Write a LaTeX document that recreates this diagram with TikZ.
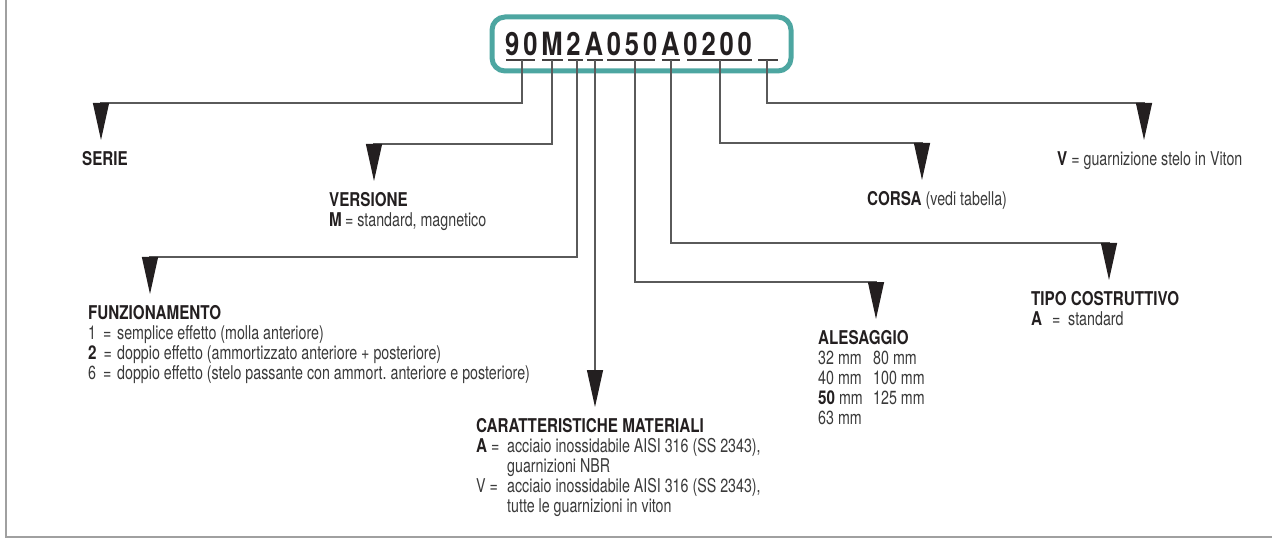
\documentclass[tikz,border=0pt]{standalone}
\usepackage{fontspec}
\setmainfont{TeX Gyre Heros}[FakeStretch=0.75,BoldFeatures={FakeStretch=0.8}]
\newfontfamily\codefont{TeX Gyre Heros}[FakeStretch=0.8,LetterSpace=12]
\usetikzlibrary{arrows.meta}
\definecolor{boxteal}{HTML}{4DA6A1}
\definecolor{inkdark}{HTML}{231F20}
\definecolor{leadgray}{HTML}{5A5A5A}
\definecolor{framegray}{HTML}{A0A0A0}
\definecolor{txtgray}{HTML}{3A3A3A}
\newcommand{\keyhd}[1]{\textcolor{inkdark}{\textbf{#1}}}

\begin{document}
\begin{tikzpicture}[x=1pt,y=-1pt,
    codebox/.style={draw=boxteal,line width=5pt,rounded corners=13pt,minimum width=299pt,minimum height=54pt},
    codetxt/.style={anchor=base west,inner sep=0pt,font=\codefont\bfseries\fontsize{32}{34}\selectfont,text=inkdark},
    uline/.style={draw=inkdark!85,line width=1.2pt},
    lead/.style={draw=leadgray,line width=1.2pt,-{Triangle[length=37pt,width=16pt,color=inkdark]}},
    lbl/.style={anchor=north west,inner sep=0pt,align=left,font=\fontsize{19}{20}\selectfont,text=txtgray}
  ]
  \useasboundingbox (0,0) rectangle (1272,540);
  \draw[framegray,line width=2pt] (6,0) -- (6,537) -- (1272,537);

  % order code
  \node[codebox] (code) at (641.5,44) {};
  \node[codetxt] (num) at (505,56) {90M2A050A0200};
  \foreach \a/\b/\c [count=\i] in {506/535/522,542/563/552,568/583/577,587/603/595,
      607/655/635,662/680/671,687/752/720,758/778/767}{
    \draw[uline] (\a,60) -- (\b,60);
    \coordinate (u\i) at (\c,60);
  }

  % arrow tips
  \coordinate (tSerie) at (101,140);
  \coordinate (tVers) at (374,181);
  \coordinate (tFunz) at (150,294);
  \coordinate (tCar) at (595,407);
  \coordinate (tAles) at (876,319);
  \coordinate (tTipo) at (1109,280);
  \coordinate (tCorsa) at (922,180);
  \coordinate (tVit) at (1144,140);

  % labels
  \node[lbl] (serie) at (82,151) {\keyhd{SERIE}};
  \node[lbl] (vers) at (329,192) {\keyhd{VERSIONE}\\\keyhd{M}\,= standard, magnetico};
  \node[lbl] (funz) at (88,305) {\keyhd{FUNZIONAMENTO}\\
    \makebox[29pt][l]{1\hspace{7pt}=}semplice effetto (molla anteriore)\\
    \makebox[29pt][l]{\keyhd{2}\hspace{7pt}=}doppio effetto (ammortizzato anteriore + posteriore)\\
    \makebox[29pt][l]{6\hspace{7pt}=}doppio effetto (stelo passante con ammort.\ anteriore e posteriore)};
  \node[lbl] (car) at (476,418) {\keyhd{CARATTERISTICHE MATERIALI}\\
    \makebox[31pt][l]{\keyhd{A} =}acciaio inossidabile AISI 316 (SS 2343),\\
    \hspace*{31pt}guarnizioni NBR\\
    \makebox[31pt][l]{V =}acciaio inossidabile AISI 316 (SS 2343),\\
    \hspace*{31pt}tutte le guarnizioni in viton};
  \node[lbl] (ales) at (818,330) {\keyhd{ALESAGGIO}\\
    \makebox[55pt][l]{32 mm}80 mm\\
    \makebox[55pt][l]{40 mm}100 mm\\
    \makebox[55pt][l]{\keyhd{50} mm}125 mm\\
    63 mm};
  \node[lbl] (tipo) at (1031,291) {\keyhd{TIPO COSTRUTTIVO}\\
    \makebox[37pt][l]{\keyhd{A}\hspace{10pt}=}standard};
  \node[lbl] (corsa) at (867,191) {\keyhd{CORSA} (vedi tabella)};
  \node[lbl] (vit) at (1057,151) {\keyhd{V} = guarnizione stelo in Viton};

  % leaders
  \draw[lead] (u1) |- ([yshift=37pt]tSerie) -- (tSerie);
  \draw[lead] (u2) |- ([yshift=37pt]tVers) -- (tVers);
  \draw[lead] (u3) |- ([yshift=37pt]tFunz) -- (tFunz);
  \draw[lead] (u4) -- (tCar);
  \draw[lead] (u5) |- ([yshift=37pt]tAles) -- (tAles);
  \draw[lead] (u6) |- ([yshift=37pt]tTipo) -- (tTipo);
  \draw[lead] (u7) |- ([yshift=37pt]tCorsa) -- (tCorsa);
  \draw[lead] (u8) |- ([yshift=37pt]tVit) -- (tVit);
\end{tikzpicture}
\end{document}
